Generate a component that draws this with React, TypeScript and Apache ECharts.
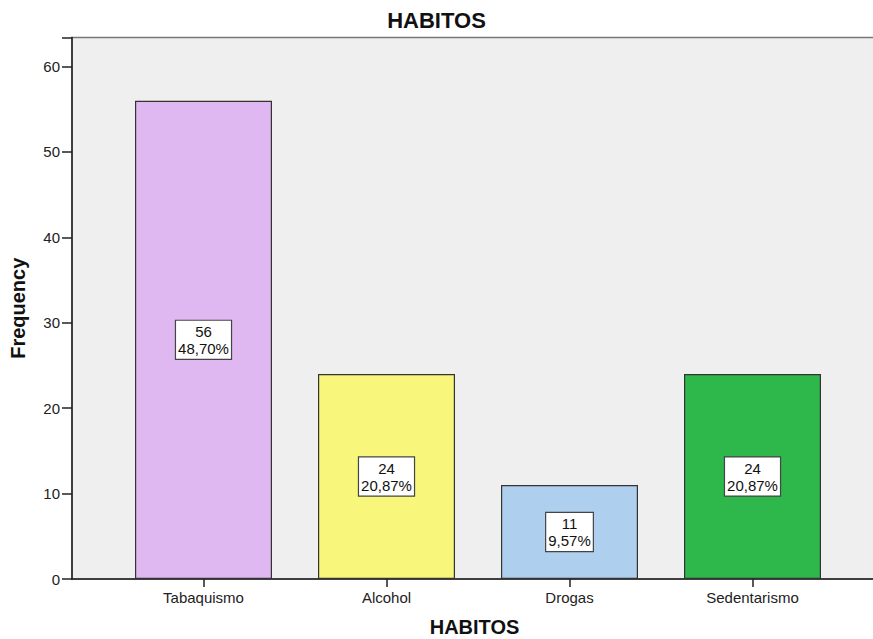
import React, { useEffect, useRef } from "react";
import * as echarts from "echarts";

const categories = ["Tabaquismo", "Alcohol", "Drogas", "Sedentarismo"];
const frequencies = [56, 24, 11, 24];
const barColors = ["#dfb8f2", "#f8f77b", "#aecfed", "#2eb84b"];
const yTicks = [0, 10, 20, 30, 40, 50, 60];

const total = frequencies.reduce((a, b) => a + b, 0);
const pct = (v: number) => ((v / total) * 100).toFixed(2).replace(".", ",") + "%";

const FONT = "Liberation Sans, Arial, sans-serif";
const Y_MAX = 63.4;

export default function App() {
  const ref = useRef<HTMLDivElement>(null);

  useEffect(() => {
    if (!ref.current) return;
    const chart = echarts.init(ref.current, null, { renderer: "svg" });
    chart.setOption({
      animation: false,
      backgroundColor: "#ffffff",
      title: {
        text: "HABITOS",
        left: "center",
        top: 4,
        textStyle: { fontFamily: FONT, fontSize: 22, fontWeight: "bold", color: "#111" },
      },
      grid: [
        {
          left: 72,
          top: 37.5,
          right: -4,
          bottom: 60,
          show: true,
          backgroundColor: "#efefef",
          borderColor: "#777",
          borderWidth: 1.5,
          outerBoundsMode: "none",
        },
        { left: 112, top: 37.5, right: 29, bottom: 60, outerBoundsMode: "none" },
      ],
      xAxis: [
        {
          gridIndex: 0,
          type: "value",
          min: 0,
          max: 1,
          axisLine: { show: true, onZero: false, lineStyle: { color: "#222", width: 1.5 } },
          axisTick: { show: false },
          axisLabel: { show: false },
          splitLine: { show: false },
          name: "HABITOS",
          nameLocation: "middle",
          nameGap: 38,
          nameTextStyle: { fontFamily: FONT, fontSize: 20, fontWeight: "bold", color: "#111" },
        },
        {
          gridIndex: 1,
          type: "category",
          data: categories,
          axisLine: { show: false },
          axisTick: { show: true, alignWithLabel: true, length: 8, lineStyle: { color: "#222", width: 1.5 } },
          axisLabel: { fontFamily: FONT, fontSize: 15, color: "#222", margin: 11 },
        },
      ],
      yAxis: [
        {
          gridIndex: 0,
          type: "value",
          min: 0,
          max: Y_MAX,
          interval: 10,
          axisLine: { show: true, lineStyle: { color: "#222", width: 1.5 } },
          axisTick: { show: true, length: 10, lineStyle: { color: "#222", width: 1.5 } },
          axisLabel: {
            fontFamily: FONT,
            fontSize: 15,
            color: "#222",
            margin: 12,
            formatter: (v: number) => (yTicks.includes(v) ? String(v) : ""),
          },
          splitLine: { show: false },
          name: "Frequency",
          nameLocation: "middle",
          nameGap: 44,
          nameTextStyle: { fontFamily: FONT, fontSize: 20, fontWeight: "bold", color: "#111" },
        },
        {
          gridIndex: 1,
          type: "value",
          min: 0,
          max: Y_MAX,
          show: false,
        },
      ],
      series: [
        {
          type: "bar",
          xAxisIndex: 1,
          yAxisIndex: 1,
          barWidth: 137,
          data: frequencies.map((v, i) => ({
            value: v,
            itemStyle: { color: barColors[i] },
          })),
          itemStyle: { borderColor: "#333", borderWidth: 1.2 },
          label: {
            show: true,
            position: "inside",
            formatter: (p: any) => `${p.value}\n${pct(p.value)}`,
            fontFamily: FONT,
            fontSize: 15,
            lineHeight: 17,
            color: "#111",
            backgroundColor: "#ffffff",
            borderColor: "#444",
            borderWidth: 1.2,
            padding: [2, 2, 2, 2],
          },
        },
      ],
    });
    return () => chart.dispose();
  }, []);

  return <div ref={ref} style={{ width: 873, height: 639, position: "absolute", left: 0, top: 0 }} />;
}
